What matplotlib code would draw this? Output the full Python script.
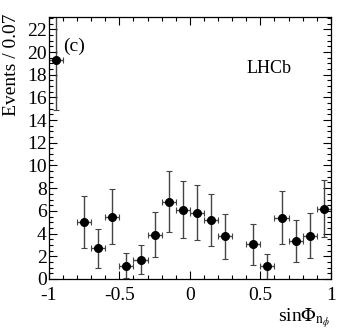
import matplotlib
matplotlib.use("Agg")
import matplotlib.pyplot as plt
from matplotlib.ticker import MultipleLocator, FuncFormatter

plt.rcParams['font.family'] = ['Liberation Serif', 'DejaVu Serif']
plt.rcParams['mathtext.fontset'] = 'stix'

x_centers = [-0.95, -0.75, -0.65, -0.55, -0.45, -0.35, -0.25, -0.15, -0.05,
             0.05, 0.15, 0.25, 0.45, 0.55, 0.65, 0.75, 0.85, 0.95]
events = [19.3, 5.0, 2.7, 5.5, 1.15, 1.7, 3.9, 6.8, 6.1,
          5.85, 5.2, 3.75, 3.05, 1.1, 5.4, 3.35, 3.8, 6.2]
errors = [4.4, 2.3, 1.7, 2.4, 1.1, 1.3, 2.0, 2.7, 2.5,
          2.45, 2.3, 2.0, 1.8, 1.1, 2.35, 1.85, 2.0, 2.5]
half_bin = [0.05] * len(x_centers)

fig = plt.figure(figsize=(3.49, 3.32), dpi=100)
ax = fig.add_axes([0.140, 0.160, 0.808, 0.789])

ax.errorbar(x_centers, events, yerr=errors, xerr=half_bin, fmt='o',
            color='black', ecolor='#444444', elinewidth=1.0, capsize=2,
            capthick=0.8, markersize=5.5, clip_on=True)

ax.set_xlim(-1, 1)
ax.set_ylim(0, 23.1)
ax.xaxis.set_major_locator(MultipleLocator(0.5))
ax.xaxis.set_minor_locator(MultipleLocator(0.1))
ax.yaxis.set_major_locator(MultipleLocator(2))
ax.yaxis.set_minor_locator(MultipleLocator(0.5))

def fmt(v, pos):
    s = ('%g' % v)
    return s.replace('\u2212', '-')
ax.xaxis.set_major_formatter(FuncFormatter(fmt))
ax.yaxis.set_major_formatter(FuncFormatter(fmt))

ax.tick_params(which='both', direction='in', top=True, right=True,
               labelsize=14, width=0.8, colors='black')
ax.tick_params(which='major', length=6)
ax.tick_params(which='minor', length=3)
ax.tick_params(axis='x', which='major', pad=6)
ax.tick_params(axis='y', which='major', pad=1.5)
for sp in ax.spines.values():
    sp.set_linewidth(0.9)

ax.text(0.05, 0.889, '(c)', transform=ax.transAxes, fontsize=14,
        ha='left', va='center')
ax.text(0.70, 0.805, 'LHCb', transform=ax.transAxes, fontsize=13,
        ha='left', va='center')

fig.text(12/349, 1 - 14/332, 'Events / 0.07', rotation=90, fontsize=14,
         ha='center', va='top')
fig.text(331/349, 1 - 318/332, r'sin$\Phi_{\mathrm{n}_{\phi}}$', fontsize=14,
         ha='right', va='center')

fig.savefig('out.png', dpi=100)
